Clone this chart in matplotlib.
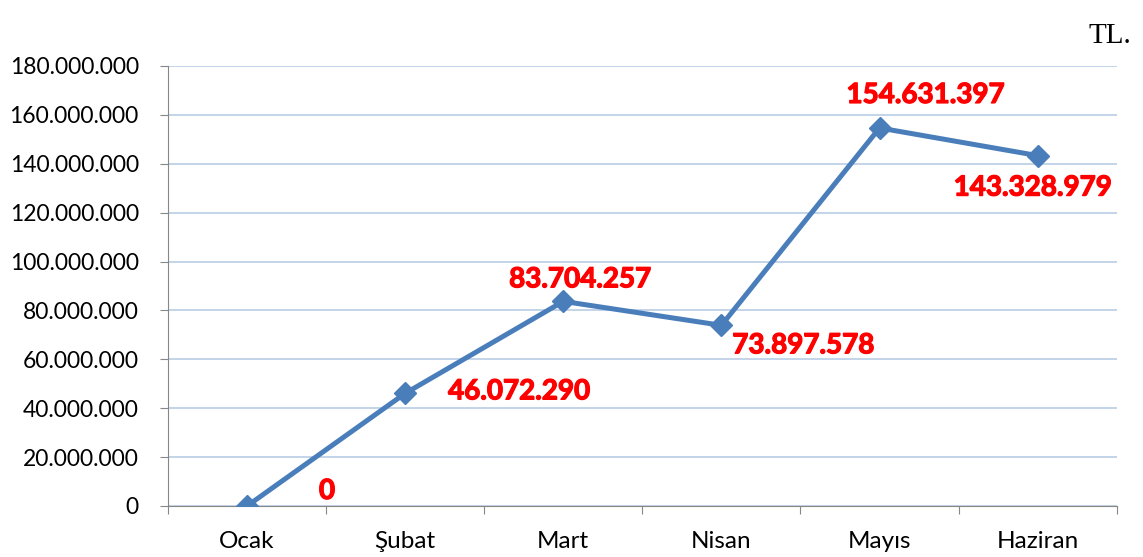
import matplotlib.pyplot as plt
import matplotlib.patheffects as pe
from matplotlib.ticker import FuncFormatter

# veriler
months = ["Ocak", "Şubat", "Mart", "Nisan", "Mayıs", "Haziran"]
values = [0, 46072290, 83704257, 73897578, 154631397, 143328979]
# etiket kaymalari (piksel)
label_dx = [80, 114, 17, 82, 46, -5]
label_dy = [15, 2, 22, -20, 33, -32]

plt.rcParams['font.family'] = ['Lato', 'DejaVu Sans']

fig = plt.figure(figsize=(11.43, 5.57), dpi=100)
ax = fig.add_axes([0.147, 0.0916, 0.830, 0.79])

x = list(range(len(months)))
ax.plot(x, values, color="#4a7ebb", linewidth=3.6, marker="D", markersize=11,
        markerfacecolor="#4a7ebb", markeredgecolor="#4a7ebb", zorder=3)

def fmt(v):
    return f"{int(v):,}".replace(",", ".")

for i, v in enumerate(values):
    ax.annotate(fmt(v), (i, v), xytext=(label_dx[i], label_dy[i]),
                textcoords="offset pixels", ha="center", va="center",
                color="red", fontsize=20, fontweight="bold", zorder=4,
                path_effects=[pe.withStroke(linewidth=0.9, foreground="red")])

ax.set_xlim(-0.5, 5.5)
ax.set_ylim(0, 180000000)
ax.set_yticks(range(0, 180000001, 20000000))
ax.yaxis.set_major_formatter(FuncFormatter(lambda v, p: fmt(v)))
ax.grid(axis="y", color="#b9cde5", linewidth=1.2)
ax.set_axisbelow(True)

ax.set_xticks([i + 0.5 for i in range(-1, 6)])
ax.set_xticklabels([])
ax.set_xticks(x, minor=True)
ax.set_xticklabels(months, minor=True)
ax.tick_params(axis="x", which="minor", length=0, pad=18, labelsize=17.5)
ax.tick_params(axis="x", which="major", length=6, color="#878787", direction="out")
ax.tick_params(axis="y", length=6, color="#878787", labelsize=16.5, pad=15)

for s in ["top", "right"]:
    ax.spines[s].set_visible(False)
ax.spines["left"].set_color("#878787")
ax.spines["bottom"].set_color("#878787")

fig.text(1110 / 1143, 1 - 36 / 557, "TL.", ha="center", va="center",
         fontsize=21, family="Liberation Serif")

plt.savefig("out.png", dpi=100)
